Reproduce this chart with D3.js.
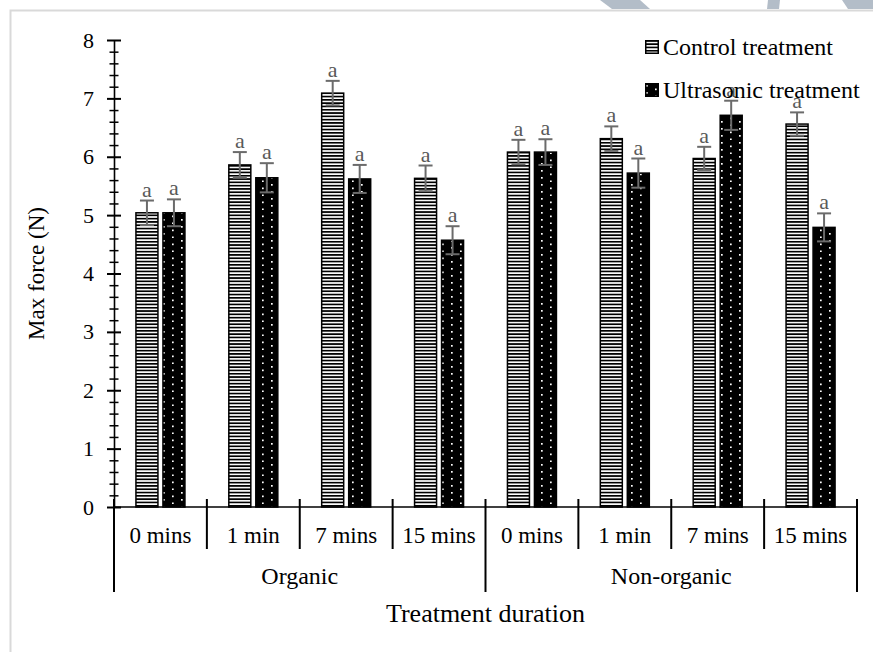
<!DOCTYPE html>
<html>
<head>
<meta charset="utf-8">
<script src="https://cdn.jsdelivr.net/npm/d3@7"></script>
<style>
  body { margin: 0; background: #fff; }
  svg { display: block; font-family: "Liberation Serif", "Times New Roman", serif; }
</style>
</head>
<body>
<div class="chart"></div>
<script>
// chart values
var groups = ["Organic", "Non-organic"];
var durations = ["0 mins", "1 min", "7 mins", "15 mins"];
var seriesNames = ["Control treatment", "Ultrasonic treatment"];
var controlMeans = [5.04, 5.86, 7.09, 5.63, 6.08, 6.31, 5.97, 6.56];
var ultrasonicMeans = [5.04, 5.64, 5.62, 4.57, 6.08, 5.72, 6.71, 4.79];
var controlErr = [0.21, 0.22, 0.21, 0.22, 0.21, 0.21, 0.20, 0.20];
var ultrasonicErr = [0.23, 0.25, 0.24, 0.24, 0.22, 0.25, 0.25, 0.24];
var sigLetters = ["a", "a", "a", "a", "a", "a", "a", "a"];
var yTicks = [0, 1, 2, 3, 4, 5, 6, 7, 8];

var svgWidth = 873;
var svgHeight = 652;

var plot = { left: 114, right: 857, top: 40, bottom: 507 };

var svg = d3.select(".chart")
  .append("svg")
  .attr("width", svgWidth)
  .attr("height", svgHeight);

// pattern fills
var defs = svg.append("defs");
var stripes = defs.append("pattern")
  .attr("id", "stripes")
  .attr("patternUnits", "userSpaceOnUse")
  .attr("width", 6)
  .attr("height", 3.3);
stripes.append("rect").attr("width", 6).attr("height", 3.3).attr("fill", "#fff");
stripes.append("rect").attr("y", 0).attr("width", 6).attr("height", 1.7).attr("fill", "#000");

var dots = defs.append("pattern")
  .attr("id", "dots")
  .attr("patternUnits", "userSpaceOnUse")
  .attr("width", 18)
  .attr("height", 14);
dots.append("rect").attr("width", 18).attr("height", 14).attr("fill", "#000");
[[1, 2], [1, 9], [10, 5.5], [10, 12.5]].forEach(function(p) {
  dots.append("rect").attr("x", p[0]).attr("y", p[1]).attr("width", 1.7).attr("height", 1.7).attr("fill", "#fff");
});

// faint watermark + frame
var wm = svg.append("g").attr("fill", "#b3bdc8");
wm.append("path").attr("d", "M600,0 L640,0 L650,9 L612,9 Z");
wm.append("path").attr("d", "M768,0 L780,0 L779,9 L767,9 Z");
wm.append("path").attr("d", "M842,0 L873,0 L873,9 L848,9 Z");
svg.append("path")
  .attr("d", "M10.5,652 L10.5,10.5 L873,10.5")
  .attr("fill", "none")
  .attr("stroke", "#d9d9d9")
  .attr("stroke-width", 2);

// scales
var cats = d3.range(groups.length * durations.length);
var x0 = d3.scaleBand()
  .domain(cats)
  .range([plot.left, plot.right])
  .padding(0);
var bw = x0.bandwidth();
var x1 = d3.scaleBand()
  .domain([0, 1])
  .range([(bw - 49) / 2, (bw + 49) / 2])
  .paddingInner(5 / 27)
  .paddingOuter(0);
var y = d3.scaleLinear().domain([0, 8]).range([plot.bottom, plot.top]);

// y axis: ticks cross the line on both sides
var minorTicks = d3.range(0, 8.001, 0.2).filter(function(v) { return Math.abs(v - Math.round(v)) > 0.01; });
var axisG = svg.append("g").attr("stroke-width", 1.6);
axisG.append("g").attr("transform", "translate(" + plot.left + ",0)")
  .call(d3.axisLeft(y).tickValues(yTicks).tickFormat(d3.format("d")).tickSizeInner(7).tickSizeOuter(0).tickPadding(13))
  .call(function(g) {
    g.selectAll("text").attr("font-size", 22).attr("fill", "#000").attr("font-family", "Liberation Serif");
    g.selectAll("line").attr("stroke", "#000").attr("stroke-width", 2);
    g.select(".domain").attr("stroke", "#000").attr("stroke-width", 1.6);
  });
axisG.append("g").attr("transform", "translate(" + plot.left + ",0)")
  .call(d3.axisRight(y).tickValues(yTicks).tickFormat("").tickSizeInner(7).tickSizeOuter(0))
  .call(function(g) {
    g.select(".domain").remove();
    g.selectAll("line").attr("stroke", "#000").attr("stroke-width", 2);
  });
[d3.axisLeft, d3.axisRight].forEach(function(ax) {
  axisG.append("g").attr("transform", "translate(" + plot.left + ",0)")
    .call(ax(y).tickValues(minorTicks).tickFormat("").tickSizeInner(4.5).tickSizeOuter(0))
    .call(function(g) {
      g.select(".domain").remove();
      g.selectAll("line").attr("stroke", "#000").attr("stroke-width", 1.5);
    });
});

// bars
var rows = cats.map(function(i) {
  return [
    { cat: i, s: 0, v: controlMeans[i], e: controlErr[i], lab: sigLetters[i] },
    { cat: i, s: 1, v: ultrasonicMeans[i], e: ultrasonicErr[i], lab: sigLetters[i] }
  ];
});
var bars = d3.merge(rows);

svg.append("g").selectAll("rect")
  .data(bars)
  .enter()
  .append("rect")
  .attr("x", function(d) { return x0(d.cat) + x1(d.s); })
  .attr("y", function(d) { return y(d.v); })
  .attr("width", x1.bandwidth())
  .attr("height", function(d) { return y(0) - y(d.v); })
  .attr("fill", function(d) { return d.s === 0 ? "url(#stripes)" : "url(#dots)"; })
  .attr("stroke", "#000")
  .attr("stroke-width", 1.5);

// error bars
var errG = svg.append("g").attr("stroke", "#6b6b6b").attr("stroke-width", 2);
bars.forEach(function(d) {
  var cx = x0(d.cat) + x1(d.s) + x1.bandwidth() / 2;
  errG.append("line").attr("x1", cx).attr("x2", cx).attr("y1", y(d.v + d.e)).attr("y2", y(d.v - d.e));
  errG.append("line").attr("x1", cx - 7).attr("x2", cx + 7).attr("y1", y(d.v + d.e)).attr("y2", y(d.v + d.e));
  errG.append("line").attr("x1", cx - 7).attr("x2", cx + 7).attr("y1", y(d.v - d.e)).attr("y2", y(d.v - d.e));
});

svg.append("g").selectAll("text")
  .data(bars)
  .enter()
  .append("text")
  .attr("x", function(d) { return x0(d.cat) + x1(d.s) + x1.bandwidth() / 2; })
  .attr("y", function(d) { return y(d.v + d.e) - 4; })
  .attr("text-anchor", "middle")
  .attr("font-size", 22)
  .attr("fill", "#595959")
  .text(function(d) { return d.lab; });

// x axis, two-level categories
var xg = svg.append("g").attr("stroke", "#000");
xg.append("line")
  .attr("x1", plot.left).attr("x2", plot.right)
  .attr("y1", plot.bottom).attr("y2", plot.bottom)
  .attr("stroke-width", 1.6);
cats.concat([cats.length]).forEach(function(i) {
  var bx = i < cats.length ? x0(i) : plot.right;
  var outer = i % durations.length === 0;
  xg.append("line")
    .attr("x1", bx).attr("x2", bx)
    .attr("y1", 499).attr("y2", outer ? 592 : 549)
    .attr("stroke-width", 2);
});

svg.append("g").selectAll("text")
  .data(cats)
  .enter()
  .append("text")
  .attr("x", function(i) { return x0(i) + bw / 2; })
  .attr("y", 543)
  .attr("text-anchor", "middle")
  .attr("font-size", 23)
  .text(function(i) { return durations[i % durations.length]; });

svg.append("g").selectAll("text")
  .data(groups)
  .enter()
  .append("text")
  .attr("x", function(g, k) { return x0(k * durations.length) + bw * durations.length / 2; })
  .attr("y", 584)
  .attr("text-anchor", "middle")
  .attr("font-size", 24)
  .text(function(g) { return g; });

// axis titles
svg.append("text")
  .attr("x", (plot.left + plot.right) / 2)
  .attr("y", 622)
  .attr("text-anchor", "middle")
  .attr("font-size", 26)
  .text("Treatment duration");

svg.append("text")
  .attr("transform", "translate(44," + (plot.top + plot.bottom) / 2 + ") rotate(-90)")
  .attr("text-anchor", "middle")
  .attr("font-size", 23)
  .text("Max force (N)");

// legend
var legend = svg.append("g").selectAll("g")
  .data(seriesNames)
  .enter()
  .append("g")
  .attr("transform", function(d, i) { return "translate(645," + (40 + i * 43) + ")"; });
legend.append("rect")
  .attr("x", 0.75).attr("y", 0.75)
  .attr("width", 12.5).attr("height", 12.5)
  .attr("fill", function(d, i) { return i === 0 ? "url(#stripes)" : "url(#dots)"; })
  .attr("stroke", "#000")
  .attr("stroke-width", 1.5);
legend.append("text")
  .attr("x", 18)
  .attr("y", 14.5)
  .attr("font-size", 24)
  .text(function(d) { return d; });
</script>
</body>
</html>
